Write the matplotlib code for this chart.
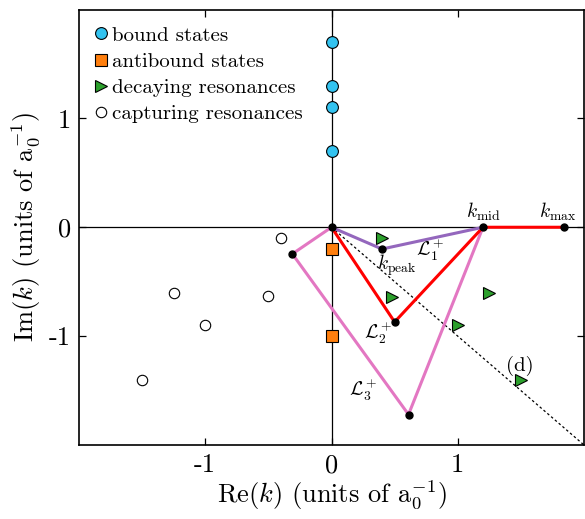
import matplotlib
matplotlib.use("Agg")
import matplotlib.pyplot as plt
import numpy as np

plt.rcParams['font.family'] = 'serif'
plt.rcParams['font.serif'] = ['cmr10', 'DejaVu Serif']
plt.rcParams['mathtext.fontset'] = 'cm'
plt.rcParams['axes.unicode_minus'] = False

# data
bound_x = [0, 0, 0, 0]
bound_y = [1.7, 1.3, 1.1, 0.7]
anti_x = [0, 0]
anti_y = [-0.2, -1.0]
decay_x = [0.4, 0.48, 1.25, 1.0, 1.5]
decay_y = [-0.1, -0.64, -0.6, -0.9, -1.4]
capt_x = [-0.4, -1.25, -0.5, -1.0, -1.5]
capt_y = [-0.1, -0.6, -0.63, -0.9, -1.4]

L1_x = [0, 0.4, 1.2]
L1_y = [0, -0.2, 0]
L2_x = [0, 0.5, 1.2, 1.84]
L2_y = [0, -0.87, 0, 0]
L3_x = [0, -0.31, 0.61, 1.2]
L3_y = [0, -0.245, -1.72, 0]
d_x = [0, 2.0]
d_y = [0, -2.0]

ticks = [-1, 0, 1]
tick_labels = ['-1', '0', '1']

fig = plt.figure(figsize=(5.85, 5.19), dpi=100)
ax = fig.add_axes([79/585, 1-445/519, (584-79)/585, (445-9.5)/519])
ax.set_xlim(-2, 2)
ax.set_ylim(-2, 2)

ax.axhline(0, color='black', lw=0.9, zorder=1)
ax.axvline(0, color='black', lw=0.9, zorder=1)
ax.plot(d_x, d_y, color='black', lw=0.9, ls=(0, (2, 2)), zorder=1)

ax.plot(L3_x, L3_y, color='#e377c2', lw=2.2, zorder=2)
ax.plot(L2_x, L2_y, color='#ff0000', lw=2.2, zorder=2.1)
ax.plot(L1_x, L1_y, color='#9467bd', lw=2.2, zorder=2.2)

dots_x = [0, 0.4, 1.2, 1.84, 0.5, -0.31, 0.61]
dots_y = [0, -0.2, 0, 0, -0.87, -0.245, -1.72]
ax.plot(dots_x, dots_y, 'o', color='black', ms=5, ls='none', zorder=3)

ax.plot(bound_x, bound_y, 'o', mfc='#33c3f0', mec='black', mew=0.8, ms=8.5, ls='none',
        zorder=4, label='bound states')
ax.plot(anti_x, anti_y, 's', mfc='#ff7f0e', mec='black', mew=0.8, ms=8, ls='none',
        zorder=4, label='antibound states')
ax.plot(decay_x, decay_y, '>', mfc='#2ca02c', mec='black', mew=0.8, ms=9, ls='none',
        zorder=4, label='decaying resonances')
ax.plot(capt_x, capt_y, 'o', mfc='white', mec='black', mew=0.8, ms=7.5, ls='none',
        zorder=4, label='capturing resonances')

leg = ax.legend(loc='upper left', frameon=False, fontsize=15, handlelength=0.5,
                handletextpad=0.3, labelspacing=0.36, borderaxespad=0.35,
                borderpad=0.45)

ax.text(1.2, 0.04, r'$k_{\rm mid}$', ha='center', va='bottom', fontsize=14)
ax.text(1.79, 0.04, r'$k_{\rm max}$', ha='center', va='bottom', fontsize=14)
ax.text(0.52, -0.23, r'$k_{\rm peak}$', ha='center', va='top', fontsize=14)
ax.text(0.78, -0.21, r'$\mathcal{L}_1^+$', ha='center', va='center', fontsize=14)
ax.text(0.37, -0.97, r'$\mathcal{L}_2^+$', ha='center', va='center', fontsize=14)
ax.text(0.25, -1.49, r'$\mathcal{L}_3^+$', ha='center', va='center', fontsize=14)
ax.text(1.49, -1.27, '(d)', ha='center', va='center', fontsize=15)

ax.set_xticks(ticks)
ax.set_xticklabels(tick_labels)
ax.set_yticks(ticks)
ax.set_yticklabels(tick_labels)
ax.tick_params(direction='in', top=True, right=True, length=5, width=0.9,
               labelsize=19, pad=6)
for s in ax.spines.values():
    s.set_linewidth(1.2)

ax.set_xlabel(r'Re$(k)$ (units of a$_0^{\mathrm{-1}}$)', fontsize=19, labelpad=1)
ax.set_ylabel(r'Im$(k)$ (units of a$_0^{\mathrm{-1}}$)', fontsize=19, labelpad=4)

fig.savefig('out.png', dpi=100)
